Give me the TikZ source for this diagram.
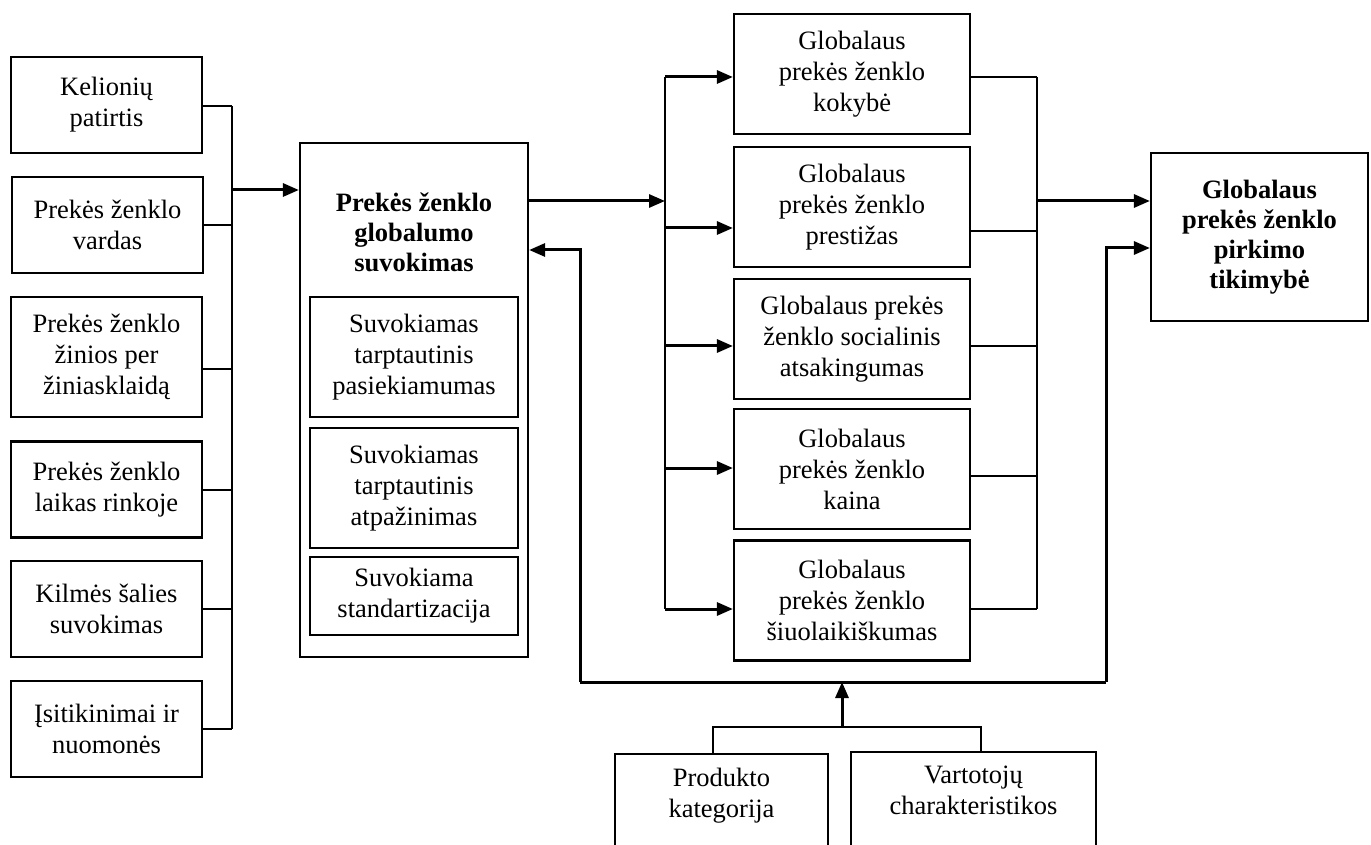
\documentclass[tikz,border=0pt]{standalone}
\usepackage{fontspec}
\setmainfont{Liberation Serif}
\usetikzlibrary{arrows.meta}
\begin{document}
\begin{tikzpicture}[x=0.5pt,y=-0.5pt,
  txt/.style={font=\fontsize{13.25pt}{15.5pt}\selectfont, align=center},
  bold/.style={font=\fontsize{13.25pt}{15pt}\selectfont\bfseries, align=center},
  box/.style={txt, draw, line width=1.1pt, inner sep=0pt},
  boldbox/.style={box, bold},
  conn/.style={line width=1pt},
  fb/.style={line width=1.5pt},
  arr/.style={line width=1.5pt, -{Triangle[length=8pt,width=6.5pt]}},
]
\useasboundingbox (0,0) rectangle (1371,845);
\clip (0,0) rectangle (1371,845);
\fill[white] (0,0) rectangle (1371,845);

% factors on the left
\node[box, minimum width=95.5pt, minimum height=48pt] (L1) at (106.5,105) {Kelionių\\patirtis};
\node[box, minimum width=95.5pt, minimum height=48pt] (L2) at (107.5,225) {Prekės ženklo\\vardas};
\node[box, minimum width=95.5pt, minimum height=60pt] (L3) at (106.5,357) {Prekės ženklo\\žinios per\\žiniasklaidą};
\node[box, minimum width=95.5pt, minimum height=48pt] (L4) at (106.5,489.5) {Prekės ženklo\\laikas rinkoje};
\node[box, minimum width=95.5pt, minimum height=48pt] (L5) at (106.5,609) {Kilmės šalies\\suvokimas};
\node[box, minimum width=95.5pt, minimum height=48pt] (L6) at (106.5,729) {Įsitikinimai ir\\nuomonės};

% central construct
\node[box, minimum width=114pt, minimum height=257pt] (M) at (414,400) {};
\node[bold] (Mt) at (414,232) {Prekės ženklo\\globalumo\\suvokimas};
\node[box, minimum width=104pt, minimum height=60pt] (I1) at (414,357) {Suvokiamas\\tarptautinis\\pasiekiamumas};
\node[box, minimum width=104pt, minimum height=60pt] (I2) at (414,488) {Suvokiamas\\tarptautinis\\atpažinimas};
\node[box, minimum width=104pt, minimum height=39pt] (I3) at (414,596) {Suvokiama\\standartizacija};

% brand attributes
\node[box, minimum width=118pt, minimum height=60pt] (R1) at (852,74) {Globalaus\\prekės ženklo\\kokybė};
\node[box, minimum width=118pt, minimum height=60pt] (R2) at (852,207) {Globalaus\\prekės ženklo\\prestižas};
\node[box, minimum width=118pt, minimum height=60pt] (R3) at (852,339) {Globalaus prekės\\ženklo socialinis\\atsakingumas};
\node[box, minimum width=118pt, minimum height=60pt] (R4) at (852,469) {Globalaus\\prekės ženklo\\kaina};
\node[box, minimum width=118pt, minimum height=60pt] (R5) at (852,600.5) {Globalaus\\prekės ženklo\\šiuolaikiškumas};

% outcome
\node[boldbox, minimum width=108.5pt, minimum height=84pt] (F) at (1259.5,237) {Globalaus\\prekės ženklo\\pirkimo\\tikimybė};

% moderators
\node[box, anchor=north, minimum width=106.5pt, minimum height=75pt,
  label={[txt, anchor=north, yshift=-4pt]north:Produkto\\kategorija}] (PK) at (721.5,753) {};
\node[box, anchor=north, minimum width=122.5pt, minimum height=75pt,
  label={[txt, anchor=north, yshift=-4pt]north:Vartotojų\\charakteristikos}] (VC) at (973.5,751) {};

% left bus
\coordinate (lb1) at (232,106);
\coordinate (lb6) at (232,729);
\coordinate (lbin) at (232,190);
\coordinate (l3o) at ([yshift=-6pt]L3.east);
\draw[conn] (L1.east |- lb1) -- (lb1);
\draw[conn] (L2.east) -- (L2.east -| lb1);
\draw[conn] (l3o) -- (l3o -| lb1);
\draw[conn] (L4.east) -- (L4.east -| lb1);
\draw[conn] (L5.east) -- (L5.east -| lb1);
\draw[conn] (L6.east) -- (L6.east -| lb1);
\draw[conn] (lb1) -- (lb6);
\draw[arr] (lbin) -- (lbin -| M.west);

% distribution bus to attributes
\coordinate (mout) at (528,201);
\coordinate (b2in) at (665,201);
\coordinate (b2a) at (665,77);
\coordinate (b2b) at (665,228);
\coordinate (b2c) at (665,346);
\coordinate (b2d) at (665,468);
\coordinate (b2e) at (665,609);
\draw[arr] (mout -| M.east) -- (b2in);
\draw[conn] (b2a) -- (b2e);
\draw[arr] (b2a) -- (b2a -| R1.west);
\draw[arr] (b2b) -- (b2b -| R2.west);
\draw[arr] (b2c) -- (b2c -| R3.west);
\draw[arr] (b2d) -- (b2d -| R4.west);
\draw[arr] (b2e) -- (b2e -| R5.west);

% collecting bus to outcome
\coordinate (rb1) at (1037,77);
\coordinate (rb2) at (1037,231);
\coordinate (rb3) at (1037,346);
\coordinate (rb4) at (1037,476);
\coordinate (rb5) at (1037,609);
\coordinate (rbout) at (1037,201);
\draw[conn] (R1.east |- rb1) -- (rb1);
\draw[conn] (R2.east |- rb2) -- (rb2);
\draw[conn] (R3.east |- rb3) -- (rb3);
\draw[conn] (R4.east |- rb4) -- (rb4);
\draw[conn] (R5.east |- rb5) -- (rb5);
\draw[conn] (rb1) -- (rb5);
\draw[arr] (rbout) -- (rbout -| F.west);

% moderating feedback
\coordinate (fbL) at (580,682);
\coordinate (fbR) at (1106,682);
\coordinate (fbLtop) at (580,250);
\coordinate (fbRtop) at (1106,248);
\draw[fb] (fbL) -- (fbR);
\draw[arr] (fbL) -- (fbLtop) -- (fbLtop -| M.east);
\draw[arr] (fbR) -- (fbRtop) -- (fbRtop -| F.west);
\coordinate (up) at (842,727);
\draw[arr] (up) -- (up |- fbL);
\coordinate (brL) at (713,727);
\coordinate (brR) at (981,727);
\draw[conn] (brL |- PK.north) -- (brL) -- (brR) -- (brR |- VC.north);
\end{tikzpicture}
\end{document}
